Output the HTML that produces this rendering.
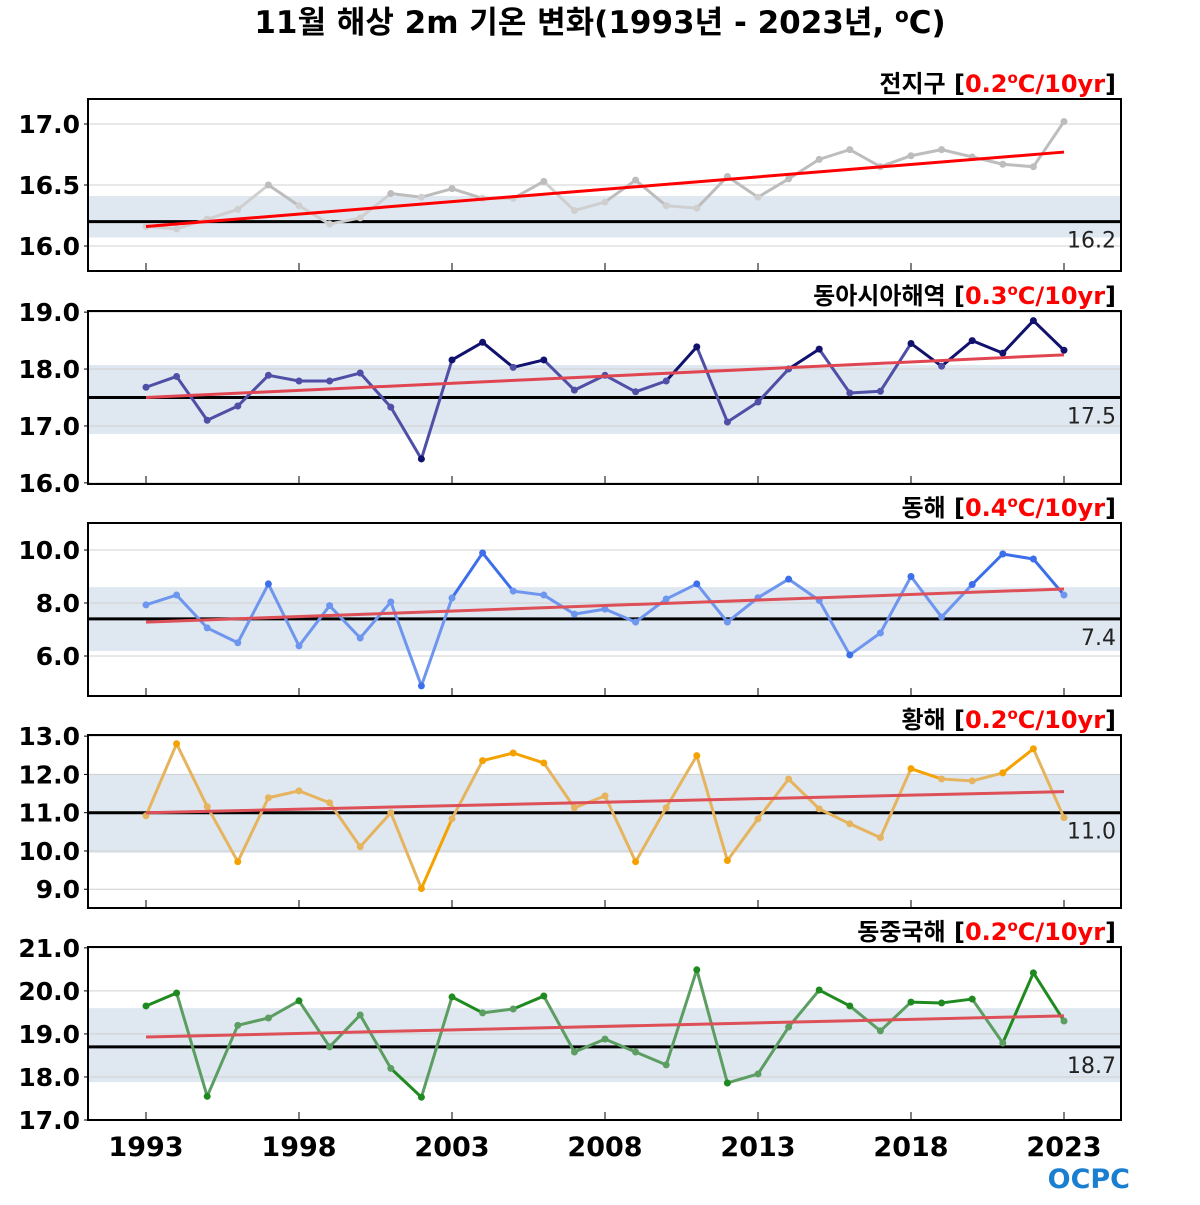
<!DOCTYPE html>
<html><head><meta charset="utf-8"><style>
body{margin:0;background:#fff;}
svg text{font-family:"DejaVu Sans","Noto Sans CJK KR",sans-serif;}
</style></head><body>
<svg id="chart" width="1200" height="1200" viewBox="0 0 1200 1200" xmlns="http://www.w3.org/2000/svg">
<text x="600" y="33" text-anchor="middle" font-size="31" font-weight="bold">11월 해상 2m 기온 변화(1993년 - 2023년, <tspan font-size="20" dy="-11">o</tspan><tspan dy="11">C)</tspan></text>
<text x="1130" y="1188" text-anchor="end" font-size="27" font-weight="bold" fill="#1a7fd0">OCPC</text>
</svg>
<script>
const years = [];
for (let y = 1993; y <= 2023; y++) years.push(y);
const xTickYears = [1993,1998,2003,2008,2013,2018,2023];

const globalVals = [16.16,16.14,16.22,16.30,16.50,16.33,16.18,16.23,16.43,16.40,16.47,16.39,16.39,16.53,16.29,16.36,16.54,16.33,16.31,16.57,16.40,16.55,16.71,16.79,16.65,16.74,16.79,16.73,16.67,16.65,17.02];
const eastAsiaVals = [17.68,17.87,17.10,17.35,17.89,17.79,17.79,17.93,17.33,16.42,18.16,18.47,18.03,18.16,17.63,17.89,17.60,17.79,18.39,17.07,17.42,18.00,18.35,17.58,17.61,18.45,18.05,18.50,18.28,18.85,18.33];
const eastSeaVals = [7.93,8.30,7.06,6.50,8.72,6.38,7.90,6.68,8.04,4.87,8.19,9.89,8.45,8.30,7.58,7.77,7.28,8.15,8.72,7.28,8.20,8.90,8.10,6.04,6.87,9.00,7.47,8.70,9.85,9.66,8.30];
const yellowSeaVals = [10.92,12.80,11.16,9.72,11.39,11.57,11.26,10.11,11.00,9.02,10.84,12.36,12.56,12.30,11.13,11.44,9.72,11.13,12.49,9.75,10.84,11.88,11.10,10.71,10.35,12.15,11.88,11.83,12.04,12.67,10.87];
const ecsVals = [19.65,19.95,17.55,19.20,19.37,19.77,18.70,19.44,18.20,17.53,19.86,19.49,19.58,19.88,18.58,18.88,18.58,18.28,20.49,17.86,18.07,19.16,20.02,19.65,19.07,19.74,19.72,19.81,18.79,20.42,19.30];

const globalTicks = ["16.0","16.5","17.0"];
const eastAsiaTicks = ["16.0","17.0","18.0","19.0"];
const eastSeaTicks = ["6.0","8.0","10.0"];
const yellowSeaTicks = ["9.0","10.0","11.0","12.0","13.0"];
const ecsTicks = ["17.0","18.0","19.0","20.0","21.0"];

const baselines = [16.2, 17.5, 7.4, 11.0, 18.7];
const trendStart = [16.16, 17.50, 7.28, 11.00, 18.93];
const trendEnd = [16.77, 18.25, 8.53, 11.55, 19.42];
const bandLow = [16.07, 16.86, 6.19, 9.95, 17.88];
const bandHigh = [16.41, 18.07, 8.60, 12.00, 19.60];
const titles = ["전지구","동아시아해역","동해","황해","동중국해"];
const rates = ["0.2","0.3","0.4","0.2","0.2"];

const panels = [
 {vals:globalVals,ticks:globalTicks,top:99,bot:271,dmin:15.795,dmax:17.205,dark:"#bdbdbd",light:"#cfcfcf",trend:"#ff0000",name:"global"},
 {vals:eastAsiaVals,ticks:eastAsiaTicks,top:311,bot:484,dmin:15.98,dmax:19.02,dark:"#11116e",light:"#4f4fa6",trend:"#e04652",name:"east-asia"},
 {vals:eastSeaVals,ticks:eastSeaTicks,top:523,bot:696,dmin:4.49,dmax:11.02,dark:"#3d6fea",light:"#6f96ee",trend:"#dd5058",name:"east-sea"},
 {vals:yellowSeaVals,ticks:yellowSeaTicks,top:735,bot:908,dmin:8.51,dmax:13.03,dark:"#f5a200",light:"#e6b45e",trend:"#dd5058",name:"yellow-sea"},
 {vals:ecsVals,ticks:ecsTicks,top:947,bot:1120,dmin:17.0,dmax:21.02,dark:"#1f8a1f",light:"#5c9e62",trend:"#dd5058",name:"east-china-sea"}
];

const NS="http://www.w3.org/2000/svg";
const svg=document.getElementById('chart');
const X0=88,X1=1121;
function xScale(yr){return 146+(yr-1993)*(1064-146)/30;}
function mk(tag,attrs,parent){const e=document.createElementNS(NS,tag);for(const k in attrs)e.setAttribute(k,attrs[k]);(parent||svg).appendChild(e);return e;}

panels.forEach((p,i)=>{
 const ys=v=>p.bot-(v-p.dmin)/(p.dmax-p.dmin)*(p.bot-p.top);
 const g=mk('g',{});
 
 
 const band=mk('rect',{x:X0,y:ys(bandHigh[i]),width:X1-X0,height:ys(bandLow[i])-ys(bandHigh[i]),fill:"#dfe8f1"},g);
 
 
 p.ticks.forEach(t=>{
  const v=parseFloat(t),y=ys(v);
  mk('line',{x1:X0,x2:X1,y1:y,y2:y,stroke:"#d0d0d0","stroke-width":1},g);
  mk('line',{x1:X0-4,x2:X0,y1:y,y2:y,stroke:"#000","stroke-width":1},g);
  const tx=mk('text',{x:80,y:y+9,"text-anchor":"end","font-size":25,"font-weight":"bold"},g);
  tx.textContent=t;
  
  
 });
 xTickYears.forEach(yr=>{
  mk('line',{x1:xScale(yr),x2:xScale(yr),y1:p.bot-8,y2:p.bot,stroke:"#000","stroke-width":1},g);
 });
 const bl=mk('line',{x1:X0,x2:X1,y1:ys(baselines[i]),y2:ys(baselines[i]),stroke:"#000","stroke-width":3},g);
 
 
 const blt=mk('text',{x:1116,y:ys(baselines[i])+26,"text-anchor":"end","font-size":22,fill:"#222"},g);
 blt.textContent=baselines[i].toFixed(1);
 
 
 for(let k=0;k<p.vals.length-1;k++){
  const mid=(p.vals[k]+p.vals[k+1])/2;
  const out=mid>bandHigh[i]||mid<bandLow[i];
  const s=mk('line',{x1:xScale(years[k]),y1:ys(p.vals[k]),x2:xScale(years[k+1]),y2:ys(p.vals[k+1]),stroke:out?p.dark:p.light,"stroke-width":3},g);
  
  
 }
 p.vals.forEach((v,k)=>{
  const out=v>bandHigh[i]||v<bandLow[i];
  const c=mk('circle',{cx:xScale(years[k]),cy:ys(v),r:3.5,fill:out?p.dark:p.light},g);
  
  
 });
 const tl=mk('line',{x1:xScale(1993),y1:ys(trendStart[i]),x2:xScale(2023),y2:ys(trendEnd[i]),stroke:p.trend,"stroke-width":3},g);
 
 
 mk('rect',{x:X0,y:p.top,width:X1-X0,height:p.bot-p.top,fill:"none",stroke:"#000","stroke-width":2},g);
 const tt=mk('text',{x:1116,y:p.top-7,"text-anchor":"end","font-size":24,"font-weight":"bold"},g);
 tt.innerHTML=titles[i]+' [<tspan fill="#ff0000">'+rates[i]+'<tspan font-size="15" dy="-9">o</tspan><tspan dy="9">C/10yr</tspan></tspan>]';
 
 
});
xTickYears.forEach(yr=>{
 const t=mk('text',{x:xScale(yr),y:1156,"text-anchor":"middle","font-size":27,"font-weight":"bold"});
 t.textContent=yr;
 
 
});
</script>
</body></html>
